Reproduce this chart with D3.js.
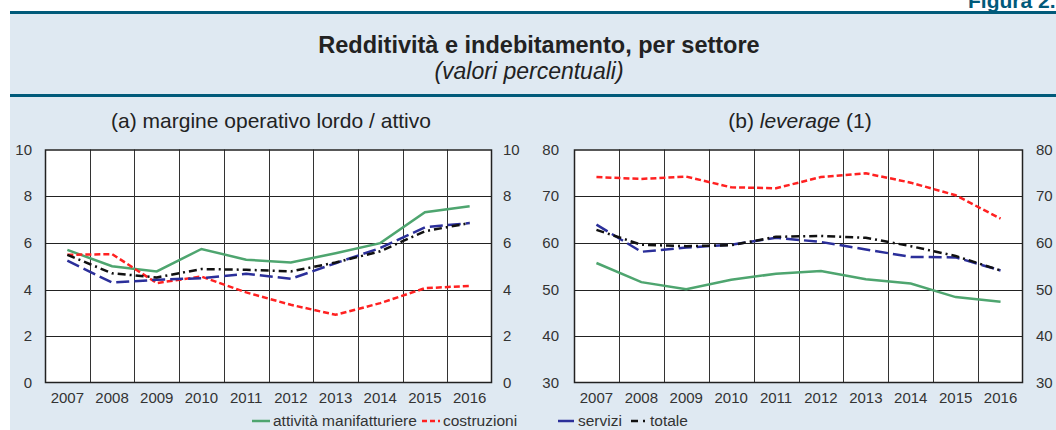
<!DOCTYPE html>
<html>
<head>
<meta charset="utf-8">
<script src="https://cdn.jsdelivr.net/npm/d3@7"></script>
<style>
  body { margin: 0; background: #fff; }
  svg { display: block; font-family: "Liberation Sans", Arial, sans-serif; }
</style>
</head>
<body>
<div id="chart"></div>
<script>

var width = 1056,
    height = 430;

// data
var years = ["2007","2008","2009","2010","2011","2012","2013","2014","2015","2016"];

var margManif = [5.7, 5.0, 4.78, 5.74, 5.28, 5.16, 5.56, 5.99, 7.31, 7.57];
var margCostr = [5.49, 5.52, 4.28, 4.56, 3.88, 3.35, 2.92, 3.42, 4.06, 4.16];
var margServ  = [5.24, 4.3, 4.42, 4.49, 4.68, 4.46, 5.13, 5.78, 6.67, 6.85];
var margTot   = [5.49, 4.7, 4.52, 4.88, 4.85, 4.78, 5.16, 5.64, 6.5, 6.85];

var levManif = [55.7, 51.6, 50.1, 52.1, 53.4, 54.0, 52.2, 51.3, 48.4, 47.4];
var levCostr = [74.1, 73.7, 74.2, 71.9, 71.7, 74.1, 74.9, 72.9, 70.2, 65.2];
var levServ  = [63.9, 58.1, 59.0, 59.6, 61.1, 60.2, 58.6, 57.0, 56.9, 54.1];
var levTot   = [62.8, 59.6, 59.3, 59.5, 61.3, 61.5, 61.1, 59.3, 57.2, 54.1];

var ticksA = [0, 2, 4, 6, 8, 10];
var ticksB = [30, 40, 50, 60, 70, 80];

var seriesNames = ["attività manifatturiere", "costruzioni", "servizi", "totale"];

var styles = [
  {color: "#4ea56f", dash: null},
  {color: "#ff2121", dash: "6,3"},
  {color: "#2b2f9a", dash: "13,5"},
  {color: "#111111", dash: "8,4,2,4"}
];

var svg = d3.select("#chart").append("svg")
    .attr("width", width)
    .attr("height", height);

// header
svg.append("text")
    .attr("x", 968)
    .attr("y", 8)
    .attr("font-size", 21)
    .attr("font-weight", "bold")
    .attr("fill", "#005a7a")
    .text("Figura 2.");

svg.append("rect")
    .attr("x", 10)
    .attr("y", 12)
    .attr("width", width - 10)
    .attr("height", height - 12)
    .attr("fill", "#dfe9f2");

svg.append("rect")
    .attr("x", 10).attr("y", 11)
    .attr("width", width - 10).attr("height", 3)
    .attr("fill", "#005a7a");

svg.append("rect")
    .attr("x", 10).attr("y", 94)
    .attr("width", width - 10).attr("height", 3)
    .attr("fill", "#005a7a");

svg.append("text")
    .attr("x", 539)
    .attr("y", 53)
    .attr("text-anchor", "middle")
    .attr("font-size", 23.5)
    .attr("font-weight", "bold")
    .attr("fill", "#222")
    .text("Redditività e indebitamento, per settore");

svg.append("text")
    .attr("x", 529)
    .attr("y", 79)
    .attr("text-anchor", "middle")
    .attr("font-size", 23)
    .attr("font-style", "italic")
    .attr("fill", "#222")
    .text("(valori percentuali)");

function drawPanel(x0, x1, domain, ticks, data, leftLabelX, rightLabelX) {
  var y0 = 383, y1 = 149.5;

  var x = d3.scaleBand()
      .domain(years)
      .range([x0, x1]);

  var y = d3.scaleLinear()
      .domain(domain)
      .range([y0, y1]);

  var g = svg.append("g");

  g.append("rect")
      .attr("x", x0).attr("y", y1)
      .attr("width", x1 - x0).attr("height", y0 - y1)
      .attr("fill", "#fff");

  // horizontal grid
  g.selectAll(".hgrid")
      .data(ticks.slice(1, -1))
      .enter().append("line")
      .attr("x1", x0).attr("x2", x1)
      .attr("y1", function(d){ return Math.round(y(d)) + 0.5; })
      .attr("y2", function(d){ return Math.round(y(d)) + 0.5; })
      .attr("stroke", "#222")
      .attr("stroke-width", 1);

  // vertical grid between years
  g.selectAll(".vgrid")
      .data(years.slice(1))
      .enter().append("line")
      .attr("x1", function(d){ return Math.round(x(d)) + 0.5; })
      .attr("x2", function(d){ return Math.round(x(d)) + 0.5; })
      .attr("y1", y1).attr("y2", y0)
      .attr("stroke", "#333")
      .attr("stroke-width", 1);

  g.append("rect")
      .attr("x", x0 + 0.5).attr("y", y1 + 0.5)
      .attr("width", x1 - x0 - 1).attr("height", y0 - y1 - 1)
      .attr("fill", "none")
      .attr("stroke", "#222")
      .attr("stroke-width", 1.5);

  // y labels on both sides
  g.selectAll(".ylab")
      .data(ticks)
      .enter().append("text")
      .attr("x", leftLabelX)
      .attr("y", function(d){ return y(d) + 5; })
      .attr("text-anchor", "end")
      .attr("font-size", 15)
      .attr("fill", "#333")
      .text(function(d){ return d; });

  g.selectAll(".ylabr")
      .data(ticks)
      .enter().append("text")
      .attr("x", rightLabelX)
      .attr("y", function(d){ return y(d) + 5; })
      .attr("font-size", 15)
      .attr("fill", "#333")
      .text(function(d){ return d; });

  g.selectAll(".xlab")
      .data(years)
      .enter().append("text")
      .attr("x", function(d){ return x(d) + x.bandwidth() / 2; })
      .attr("y", 403)
      .attr("text-anchor", "middle")
      .attr("font-size", 15)
      .attr("fill", "#333")
      .text(function(d){ return d; });

  var line = d3.line()
      .x(function(d, i){ return x(years[i]) + x.bandwidth() / 2; })
      .y(function(d){ return y(d); });

  data.forEach(function(s, i){
    g.append("path")
        .datum(s)
        .attr("d", line)
        .attr("fill", "none")
        .attr("stroke", styles[i].color)
        .attr("stroke-width", 2.5)
        .attr("stroke-dasharray", styles[i].dash);
  });
}

drawPanel(45, 492, [0, 10], ticksA, [margManif, margCostr, margServ, margTot], 32, 503);
drawPanel(574, 1023, [30, 80], ticksB, [levManif, levCostr, levServ, levTot], 559, 1036);

// panel titles
svg.append("text")
    .attr("x", 271)
    .attr("y", 128)
    .attr("text-anchor", "middle")
    .attr("font-size", 21)
    .attr("fill", "#222")
    .text("(a) margine operativo lordo / attivo");

var tb = svg.append("text")
    .attr("x", 800)
    .attr("y", 128)
    .attr("text-anchor", "middle")
    .attr("font-size", 21)
    .attr("fill", "#222");
tb.append("tspan").text("(b) ");
tb.append("tspan").attr("font-style", "italic").text("leverage");
tb.append("tspan").text(" (1)");

// legend
var legendPos = [
  {x1: 252, x2: 270, tx: 273},
  {x1: 422, x2: 440, tx: 443},
  {x1: 558, x2: 574, tx: 578},
  {x1: 631, x2: 647, tx: 650}
];
var legendDash = [null, "5,3", null, "7,5,2,5"];

var legend = svg.selectAll(".legend")
    .data(seriesNames)
    .enter().append("g");

legend.append("line")
    .attr("x1", function(d, i){ return legendPos[i].x1; })
    .attr("x2", function(d, i){ return legendPos[i].x2; })
    .attr("y1", 421).attr("y2", 421)
    .attr("stroke", function(d, i){ return styles[i].color; })
    .attr("stroke-width", 2.5)
    .attr("stroke-dasharray", function(d, i){ return legendDash[i]; });

legend.append("text")
    .attr("x", function(d, i){ return legendPos[i].tx; })
    .attr("y", 426)
    .attr("font-size", 15.5)
    .attr("fill", "#333")
    .text(function(d){ return d; });

</script>
</body>
</html>
